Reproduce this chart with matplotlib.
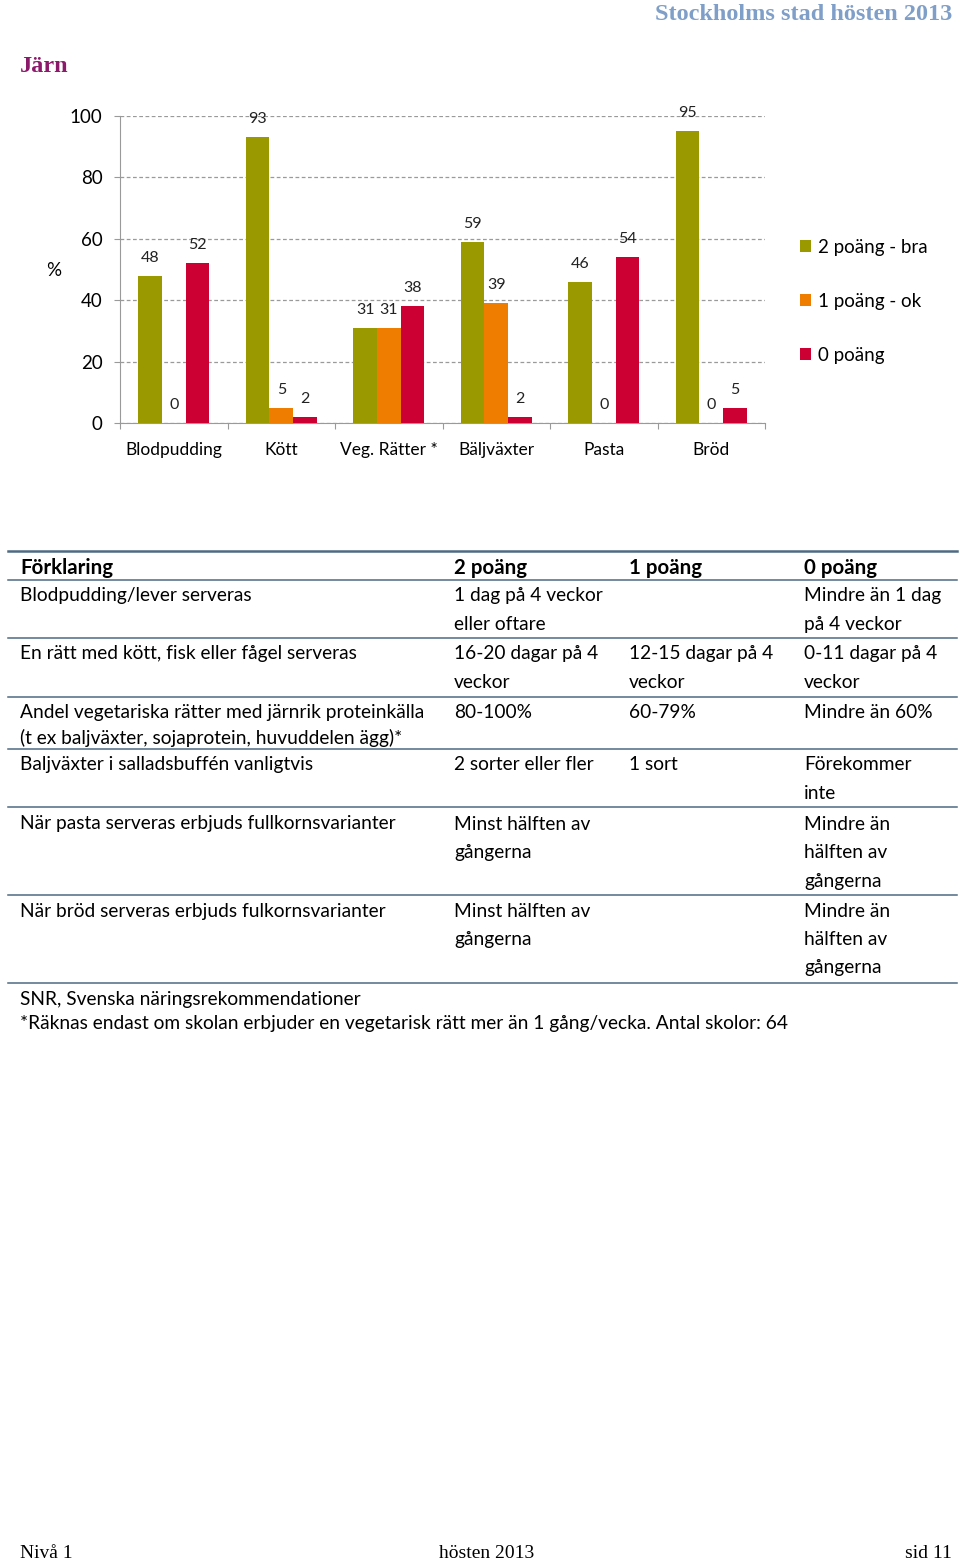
import numpy as np
import matplotlib
matplotlib.use("Agg")
import matplotlib.pyplot as plt

W, H = 960, 1561

categories = ["Blodpudding", "Kött", "Veg. Rätter *", "Bäljväxter", "Pasta", "Bröd"]
bra = [48, 93, 31, 59, 46, 95]
ok = [0, 5, 31, 39, 0, 0]
noll = [52, 2, 38, 2, 54, 5]
series_names = ["2 poäng - bra", "1 poäng - ok", "0 poäng"]
colors = ["#9a9a00", "#ee7d00", "#cc0033"]

table_header = ["Förklaring", "2 poäng", "1 poäng", "0 poäng"]
table_rows = [
    ["Blodpudding/lever serveras", "1 dag på 4 veckor\neller oftare", "", "Mindre än 1 dag\npå 4 veckor"],
    ["En rätt med kött, fisk eller fågel serveras", "16-20 dagar på 4\nveckor", "12-15 dagar på 4\nveckor", "0-11 dagar på 4\nveckor"],
    ["Andel vegetariska rätter med järnrik proteinkälla\n(t ex baljväxter, sojaprotein, huvuddelen ägg)*", "80-100%", "60-79%", "Mindre än 60%"],
    ["Baljväxter i salladsbuffén vanligtvis", "2 sorter eller fler", "1 sort", "Förekommer\ninte"],
    ["När pasta serveras erbjuds fullkornsvarianter", "Minst hälften av\ngångerna", "", "Mindre än\nhälften av\ngångerna"],
    ["När bröd serveras erbjuds fulkornsvarianter", "Minst hälften av\ngångerna", "", "Mindre än\nhälften av\ngångerna"],
]
notes = ["SNR, Svenska näringsrekommendationer",
         "*Räknas endast om skolan erbjuder en vegetarisk rätt mer än 1 gång/vecka. Antal skolor: 64"]

plt.rcParams['font.family'] = ['Lato', 'DejaVu Sans']

fig = plt.figure(figsize=(W / 100, H / 100), dpi=100)


def fx(px):
    return px / W


def fy(py):
    return 1 - py / H


# chart
ax = fig.add_axes([fx(120), fy(423), fx(645), (423 - 116) / H])
x = np.arange(len(categories))
bw = 0.22
bars = []
for i, vals in enumerate([bra, ok, noll]):
    b = ax.bar(x + (i - 1) * bw, vals, bw, color=colors[i], label=series_names[i], zorder=3)
    bars.append(b)
    for xi, v in zip(x, vals):
        ax.annotate(str(v), (xi + (i - 1) * bw, v), xytext=(0, 13), textcoords="offset points",
                    ha="center", va="center", fontsize=11.5, color="#222222")

ax.set_xlim(-0.5, len(categories) - 0.5)
ax.set_ylim(0, 100)
ax.set_yticks(range(0, 101, 20))
ax.set_yticklabels([str(v) for v in range(0, 101, 20)], fontsize=13.5)
ax.yaxis.grid(True, linestyle=(0, (3, 2)), color="#9a9a9a", linewidth=0.9, zorder=0)
ax.set_xticks(np.arange(-0.5, len(categories), 1))
ax.set_xticklabels([])
ax.set_xticks(x, minor=True)
ax.set_xticklabels(categories, minor=True, fontsize=12.5)
ax.tick_params(axis="x", which="minor", length=0, pad=14)
ax.tick_params(axis="x", which="major", length=4.5, color="#9a9a9a")
ax.tick_params(axis="y", length=4.5, color="#9a9a9a", pad=8)
for s in ["top", "right"]:
    ax.spines[s].set_visible(False)
for s in ["left", "bottom"]:
    ax.spines[s].set_color("#9a9a9a")
ax.set_axisbelow(True)

fig.text(fx(54), fy(271), "%", fontsize=13.5, ha="center", va="center")

ax.legend(handles=bars, loc="upper left", bbox_to_anchor=(fx(800), fy(239)),
          bbox_transform=fig.transFigure, frameon=False, fontsize=13.5,
          borderpad=0, borderaxespad=0,
          handlelength=0.6, handleheight=0.6, handletextpad=0.35, labelspacing=1.97)

# headings
fig.text(fx(952), fy(15), "Stockholms stad hösten 2013", fontsize=17.5, fontweight="bold",
         family="Liberation Serif", color="#7f9fc8", ha="right", va="center")
fig.text(fx(20), fy(67), "Järn", fontsize=17.5, fontweight="bold",
         family="Liberation Serif", color="#8b1a6b", ha="left", va="center")

# table
line_color = "#4f6a82"
col_x = [20, 454, 629, 804]
row_lines = [551, 580, 638, 697, 749, 807, 895, 983]
row_first = [596, 654, 713, 765, 824, 911]
row_step = [28.5, 28.5, 25, 28.5, 28.5, 28.5]

for i, yl in enumerate(row_lines):
    fig.add_artist(plt.Line2D([fx(8), fx(957)], [fy(yl), fy(yl)], transform=fig.transFigure,
                              color=line_color, linewidth=1.8 if i == 0 else 1.1))

for cx, t in zip(col_x, table_header):
    fig.text(fx(cx), fy(568), t, fontsize=14.8, fontweight="bold", ha="left", va="center")

for r, row in enumerate(table_rows):
    for cx, cell in zip(col_x, row):
        for k, line in enumerate(cell.split("\n")):
            if line:
                fig.text(fx(cx), fy(row_first[r] + k * row_step[r]), line, fontsize=13.8,
                         ha="left", va="center")

for k, n in enumerate(notes):
    fig.text(fx(20), fy(999 + k * 25), n, fontsize=13.8, ha="left", va="center")

# footer
fig.text(fx(20), fy(1554), "Nivå 1", fontsize=14, family="Liberation Serif", ha="left", va="center")
fig.text(fx(487), fy(1554), "hösten 2013", fontsize=14, family="Liberation Serif", ha="center", va="center")
fig.text(fx(952), fy(1554), "sid 11", fontsize=14, family="Liberation Serif", ha="right", va="center")

fig.savefig("out.png", dpi=100)
